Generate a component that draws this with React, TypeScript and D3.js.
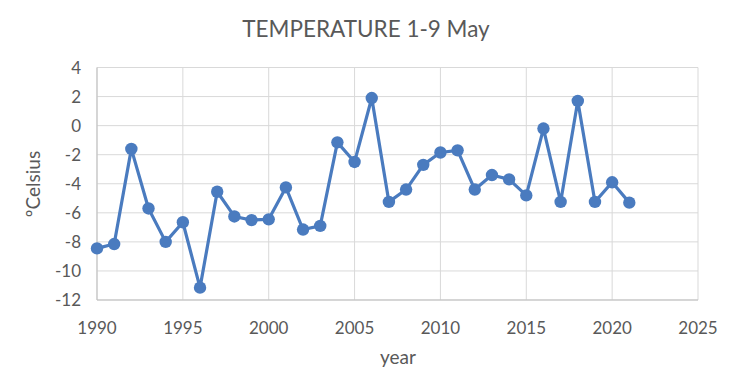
import React from "react";
import * as d3 from "d3";

const years = [1990,1991,1992,1993,1994,1995,1996,1997,1998,1999,2000,2001,2002,2003,2004,2005,2006,2007,2008,2009,2010,2011,2012,2013,2014,2015,2016,2017,2018,2019,2020,2021];
const temps = [-8.45,-8.15,-1.6,-5.7,-8.0,-6.65,-11.15,-4.55,-6.25,-6.5,-6.45,-4.25,-7.15,-6.9,-1.15,-2.5,1.9,-5.25,-4.4,-2.7,-1.85,-1.7,-4.4,-3.4,-3.7,-4.8,-0.2,-5.25,1.7,-5.25,-3.9,-5.3];
const xTicks = [1990,1995,2000,2005,2010,2015,2020,2025];
const yTicks = [4,2,0,-2,-4,-6,-8,-10,-12];
const title = "TEMPERATURE 1-9 May";
const xTitle = "year";
const yTitle = "ºCelsius";

const W = 740, H = 387;
const left = 97, right = 698, top = 67.5, bottom = 300;
const font = "Lato, 'Open Sans', sans-serif";
const txt = "#595959";
const blue = "#4A7BBF";

export default function App() {
  const x = d3.scaleLinear().domain([1990, 2025]).range([left, right]);
  const y = d3.scaleLinear().domain([-12, 4]).range([bottom, top]);
  const line = d3.line<number>().x((_, i) => x(years[i])).y((d) => y(d));
  return (
    <svg width={W} height={H} style={{ position: "absolute", left: 0, top: 0, background: "#fff" }}>
      <rect x={0} y={0} width={W} height={H} fill="#fff" />
      <text x={366} y={37} textAnchor="middle" fontFamily={font} fontSize={22.5} fill={txt}>{title}</text>
      {yTicks.map((t) => (
        <g key={"y" + t}>
          <line x1={left} x2={right} y1={y(t)} y2={y(t)} stroke="#d9d9d9" strokeWidth={1} />
          <text x={81} y={y(t) + 6} textAnchor="end" fontFamily={font} fontSize={17} fill={txt}>{t}</text>
        </g>
      ))}
      {xTicks.map((t) => (
        <g key={"x" + t}>
          <line x1={x(t)} x2={x(t)} y1={top} y2={bottom} stroke="#d9d9d9" strokeWidth={1} />
          <text x={x(t)} y={334} textAnchor="middle" fontFamily={font} fontSize={17} fill={txt}>{t}</text>
        </g>
      ))}
      <line x1={left} x2={left} y1={top} y2={bottom} stroke="#bfbfbf" strokeWidth={1} />
      <line x1={left} x2={right} y1={bottom} y2={bottom} stroke="#bfbfbf" strokeWidth={1} />
      <text x={398} y={364} textAnchor="middle" fontFamily={font} fontSize={19} fill={txt}>{xTitle}</text>
      <text transform={`translate(40,${184}) rotate(-90)`} textAnchor="middle" fontFamily={font} fontSize={19} fill={txt}>{yTitle}</text>
      <path d={line(temps) || ""} fill="none" stroke={blue} strokeWidth={3.2} strokeLinejoin="round" />
      {temps.map((v, i) => (
        <circle key={i} cx={x(years[i])} cy={y(v)} r={6.2} fill={blue} />
      ))}
    </svg>
  );
}
